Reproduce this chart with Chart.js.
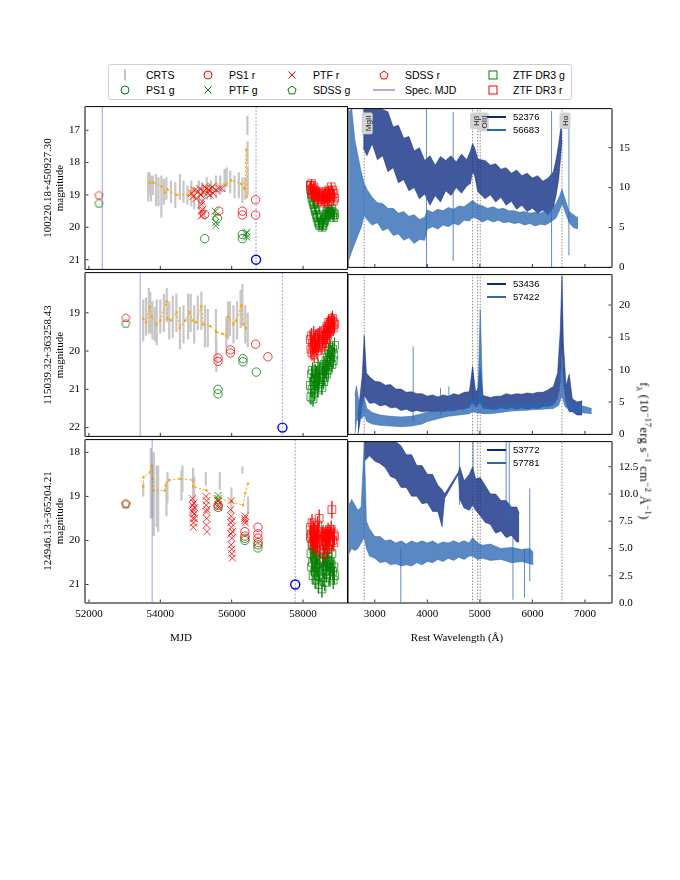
<!DOCTYPE html>
<html lang="en">
<head>
<meta charset="UTF-8">
<meta name="viewport" content="width=680, initial-scale=1.0">
<title>Light curves and spectra</title>
<script src="https://cdn.jsdelivr.net/npm/chart.js"></script>
<style>
    * { margin: 0; padding: 0; box-sizing: border-box; }
    body {
        width: 680px; height: 880px; background: #fff; position: relative; overflow: hidden;
        font-family: "Liberation Serif", "DejaVu Serif", serif; color: #000;
    }
    canvas { position: absolute; }
    .legend {
        position: absolute; left: 108px; top: 64px; width: 464px; height: 36px;
        border: 1px solid #cfcfcf; border-radius: 3px; background: #fff;
        font-family: "Liberation Sans", Arial, sans-serif; font-size: 10.5px;
    }
    .legend .item { position: absolute; height: 14px; line-height: 14px; white-space: nowrap; }
    .legend svg { position: absolute; }
    .label { position: absolute; white-space: nowrap; font-size: 11px; transform: translate(-50%, -50%); }
    .up { transform: translate(-50%, -50%) rotate(-90deg); }
    .down { transform: translate(-50%, -50%) rotate(90deg); }
    .flabel { font-size: 12.5px; letter-spacing: 0.3px; }
    .flabel sub, .flabel sup { font-size: 9px; }
    .speclegend { position: absolute; font-family: "Liberation Sans", Arial, sans-serif; font-size: 9.5px; line-height: 12px; }
    .specline { position: absolute; width: 19px; height: 2px; }
</style>
</head>
<body>
<div class="legend" id="legend"></div>

<canvas id="lc0"></canvas>
<canvas id="lc1"></canvas>
<canvas id="lc2"></canvas>
<canvas id="sp0"></canvas>
<canvas id="sp1"></canvas>
<canvas id="sp2"></canvas>

<div class="label" style="left:181px; top:637px;">MJD</div>
<div class="label" style="left:457px; top:637px;">Rest Wavelength (Å)</div>
<div class="label down flabel" style="left:644px; top:451px;">f<sub>λ</sub> (10<sup>−17</sup>erg s<sup>−1</sup> cm<sup>−2</sup> Å<sup>−1</sup>)</div>

<script>
// ---------- axes ----------
const mjdTicks = [52000, 54000, 56000, 58000];
const wlTicks = [3000, 4000, 5000, 6000, 7000];
const magTicks = [[17, 18, 19, 20, 21], [19, 20, 21, 22], [18, 19, 20, 21]];
const magRange = [[16.27, 21.3], [17.95, 22.23], [17.71, 21.42]];
const fluxTicks = [[0, 5, 10, 15], [0, 5, 10, 15, 20], [0, 2.5, 5, 7.5, 10, 12.5]];
const fluxMax = [19.9, 24.7, 14.8];

const objNames = ['100220.18+450927.30', '115039.32+363258.43', '124946.13+365204.21'];
const specMjd = [[52376, 56683], [53436, 57422], [53772, 57781]];
const specMarkMag = [21, 22, 21];

const lineWl = [2798, 4861, 4959, 5007, 6563];
const lineLabels = [['MgII', 2798], ['Hβ', 4861], ['OIII', 5007], ['Hα', 6563]];

// ---------- light curves: row 1 ----------
const crts1 = [[53660,18.75,0.45],[53700,18.65,0.35],[53740,18.8,0.4],[53790,18.7,0.3],[53880,18.85,0.5],
    [53950,18.9,0.45],[54030,19.05,0.65],[54100,18.9,0.4],[54170,18.8,0.35],[54300,18.9,0.35],[54420,19.0,0.4],
    [54550,18.75,0.4],[54650,18.9,0.35],[54760,19.0,0.3],[54870,18.95,0.4],[54950,19.1,0.35],[55080,19.0,0.45],
    [55180,18.95,0.35],[55300,18.8,0.35],[55420,18.85,0.3],[55560,18.75,0.35],[55680,18.7,0.3],[55800,18.55,0.35],
    [55860,18.45,0.3],[55960,18.6,0.35],[56080,18.75,0.35],[56200,18.7,0.4],[56300,18.85,0.4],[56380,18.8,0.35],
    [56440,16.85,0.3],[56445,17.7,0.35],[56450,18.55,0.45]];
const bin1 = [[53706,18.63],[53800,18.62],[54033,18.73],[54130,18.93],[54200,18.83],[54452,19.0],[54777,19.0],
    [54872,18.85],[55152,19.0],[55337,18.82],[55570,18.66],[55850,18.67],[55990,18.55],[56270,18.66],
    [56363,18.82],[56410,17.6],[56430,19.05]];
const ps1g1 = [[55245,20.35],[55600,19.72],[56300,20.22],[56300,20.35]];
const ps1r1 = [[55245,19.6],[55636,19.5],[56300,19.5],[56300,19.62],[56671,19.15],[56671,19.62]];
const ptfg1 = [[55540,19.5],[55545,19.65],[55550,19.85],[55555,19.95],[56400,20.2],[56420,20.3],[56430,20.15]];
const ptfr1 = [[54880,18.95],[54920,19.05],[54960,18.85],[55010,19.1],[55060,18.9],[55110,18.8],[55140,19.0],
    [55150,19.3],[55152,19.5],[55155,19.65],[55170,19.2],[55180,19.45],[55190,19.6],[55200,18.9],[55240,18.75],
    [55290,18.8],[55330,18.95],[55360,18.85],[55390,19.0],[55420,18.8],[55450,18.75],[55480,18.95],[55560,18.85],
    [55650,18.8],[55720,18.8]];
const sdssg1 = [[52280,19.25]];
const sdssr1 = [[52280,19.0]];

// ZTF DR3 epochs shared by the three objects, typical error per object
const ztfMjd = [58205,58220,58238,58251,58266,58280,58297,58310,58326,58342,58358,58371,58390,58405,58420,
    58436,58452,58470,58530,58548,58561,58577,58590,58606,58622,58640,58655,58671,58688,58703,58720,58736,
    58752,58770,58790,58808,58826,58845,58862,58880];
const ztfErr = [0.12, 0.2, 0.2];
const ztfr1 = [18.7,18.85,18.65,18.95,18.8,18.9,18.75,19.0,18.85,18.95,19.05,18.9,19.1,18.95,19.0,19.15,18.9,
    19.05,19.2,19.0,19.1,18.95,19.25,19.05,19.15,18.9,19.1,19.0,19.2,18.95,18.85,19.1,18.9,19.0,18.75,19.05,
    18.85,19.2,18.95,19.1];
const ztfg1 = [18.7,18.85,19.0,19.1,18.95,19.2,19.3,19.25,19.4,19.5,19.45,19.6,19.7,19.65,19.8,19.85,19.9,
    19.95,20.0,19.9,19.95,19.85,19.75,19.8,19.7,19.6,19.65,19.5,19.55,19.6,19.45,19.5,19.6,19.55,19.4,19.5,
    19.65,19.55,19.7,19.6];

// ---------- light curves: row 2 ----------
const crts2 = [[53520,19.2,0.55],[53600,19.1,0.5],[53680,18.95,0.6],[53720,19.0,0.55],[53780,19.2,0.5],
    [53850,19.3,0.45],[53900,19.25,0.6],[54000,19.1,0.45],[54100,19.0,0.5],[54180,18.8,0.45],[54250,19.2,0.5],
    [54350,19.1,0.55],[54450,19.0,0.5],[54550,19.4,0.55],[54650,19.3,0.5],[54780,19.1,0.6],[54850,19.0,0.5],
    [54950,19.3,0.5],[55050,19.0,0.45],[55150,18.95,0.5],[55250,19.35,0.55],[55330,19.4,0.5],[55560,19.5,0.6],
    [55570,20.1,0.45],[55850,19.5,0.4],[55900,19.2,0.5],[55950,19.15,0.45],[56050,19.3,0.5],[56150,19.2,0.5],
    [56250,18.9,0.5],[56300,18.8,0.55],[56380,19.3,0.5],[56450,19.45,0.45]];
const bin2 = [[53520,19.15],[53600,19.25],[53700,18.85],[53760,19.1],[53893,19.3],[54000,19.2],[54173,18.7],
    [54200,19.15],[54300,19.2],[54452,18.98],[54545,19.4],[54700,19.2],[54825,18.98],[54900,19.2],[55000,19.25],
    [55152,18.83],[55200,19.3],[55400,19.35],[55570,19.5],[55750,19.55],[55850,19.6],[55900,19.1],[56050,19.3],
    [56130,19.2],[56270,18.8],[56330,19.3],[56400,19.4]];
const ps1g2 = [[55617,21.0],[55617,21.12],[56316,20.2],[56316,20.28],[56690,20.55]];
const ps1r2 = [[55617,20.18],[55617,20.27],[55963,19.97],[55963,20.05],[56671,19.82],[57015,20.15]];
const ptfg2 = [];
const ptfr2 = [];
const sdssg2 = [[53035,19.27]];
const sdssr2 = [[53035,19.12]];
const ztfr2 = [19.7,19.95,19.6,20.05,19.8,19.9,19.55,20.1,19.75,19.85,19.65,19.9,20.0,19.7,19.6,19.85,19.75,
    19.55,19.9,19.7,19.65,19.5,19.8,19.6,19.45,19.7,19.55,19.35,19.6,19.4,19.25,19.5,19.3,19.45,19.2,19.35,
    19.15,19.4,19.25,19.3];
const ztfg2 = [20.9,21.2,20.6,21.0,20.5,21.25,20.8,20.7,21.1,20.55,20.9,20.75,20.6,21.0,20.4,20.85,20.7,20.5,
    20.95,20.6,20.45,20.8,20.35,20.7,20.5,20.25,20.6,20.4,20.15,20.5,20.0,20.3,19.9,20.2,20.05,20.35,19.95,
    20.25,20.1,19.85];

// ---------- light curves: row 3 ----------
const crts3 = [[53520,18.85,0.15],[53735,18.7,0.8],[53760,18.9,0.6],[53818,18.95,0.95],[53900,19.0,0.7],
    [53940,19.05,0.75],[54173,19.05,0.4],[54200,18.8,0.35],[54593,18.75,0.35],[54620,18.6,0.3],[54919,18.75,0.4],
    [54950,18.9,0.35],[55274,18.6,0.15],[55666,18.65,0.2],[55993,19.1,0.3],[56300,18.4,0.08],[56459,19.2,0.2]];
const bin3 = [[53520,18.78],[53530,18.56],[53706,18.45],[53750,18.3],[53790,18.6],[53820,18.86],[54126,18.87],
    [54150,18.75],[54247,18.63],[54545,18.6],[54900,18.63],[54920,18.78],[55290,18.86],[55570,19.04],
    [55990,19.12],[56316,19.2],[56380,18.93],[56457,18.71]];
const ps1g3 = [[55620,19.25],[56370,19.95],[56370,20.0],[56736,20.1],[56736,20.17]];
const ps1r3 = [[55620,19.2],[56370,19.8],[56370,19.9],[56736,19.7],[56736,19.85],[56736,19.95],[56740,20.05]];
const ptfg3 = [[55615,19.05],[55625,19.1],[55620,18.98]];
const ptfr3 = [[54900,19.05],[54905,19.2],[54910,19.35],[54915,19.5],[54920,19.3],[54925,19.7],[54930,19.6],
    [54940,19.15],[54945,19.4],[54950,19.25],[54960,19.5],[55280,19.0],[55285,19.2],[55290,19.35],[55292,19.65],
    [55295,19.1],[55300,19.5],[55305,19.3],[55310,19.8],[55610,19.1],[55620,19.2],[55630,19.25],[55970,19.3],
    [55975,19.6],[55980,19.85],[55985,20.1],[55990,19.45],[55992,19.1],[55995,19.7],[56000,20.3],[56002,20.2],
    [56005,19.95],[56010,19.55],[56015,20.4],[56020,19.8],[56360,19.5],[56370,19.55],[56375,19.45],[56380,19.6]];
const sdssg3 = [[53035,19.17]];
const sdssr3 = [[53035,19.15]];
const ztfr3 = [19.7,19.95,19.85,19.6,20.1,19.9,19.75,20.0,19.8,19.95,20.15,19.85,19.9,19.65,20.05,19.8,19.5,
    20.2,19.9,20.0,19.85,20.3,19.95,20.1,19.9,19.85,20.0,20.2,19.9,19.8,19.95,20.1,19.85,19.9,19.75,19.3,20.0,
    19.85,20.05,19.9];
const ztfg3 = [19.9,20.3,20.6,20.1,20.5,20.8,20.2,20.4,20.7,20.35,20.9,20.55,20.25,20.6,20.8,21.0,20.45,20.7,
    21.1,20.5,20.85,20.65,20.4,20.95,20.6,20.3,20.75,20.5,20.2,20.45,20.0,20.6,20.85,20.7,20.55,20.3,20.7,
    20.9,20.6,20.8];

// ---------- spectra: [wavelength, lower, upper] of the noisy band ----------
const spec1a = [[2780,15,21],[2850,14,21],[2950,15.5,21],[3050,13.5,20.5],[3150,14,19.8],[3250,12,19.5],
    [3350,12.5,17.6],[3450,10.6,17.8],[3550,11,16.2],[3650,9.6,16.4],[3750,10,14.6],[3850,8.6,15],[3950,9.2,13.4],
    [4050,7.8,14],[4150,9,12.8],[4250,8.2,13.9],[4350,9.6,13.4],[4450,9,14],[4550,10,13.2],[4650,9.3,14.2],
    [4750,10.2,13.5],[4820,10.5,14.6],[4861,12,15.5],[4900,11.5,15],[4960,9.5,13.6],[5007,9.2,13.5],[5100,8.6,13.4],
    [5200,9.1,12.8],[5300,8.2,13],[5400,8.8,12.3],[5500,7.8,12.5],[5600,8.3,11.8],[5700,7.3,12.2],[5800,7.8,11.5],
    [5900,7,11.8],[6000,7.4,11.2],[6100,6.8,11.5],[6200,7.2,10.8],[6300,6.6,11.2],[6400,7.5,12],[6450,9,13.5],
    [6500,11,15.5],[6540,14,17.5],[6563,16,18.5]];
const spec1b = [[2510,1,19.5],[2560,2,19.9],[2620,3,16],[2680,4,14],[2740,5,12],[2800,6.5,10.5],[2850,6,9.8],
    [2950,5.3,8.8],[3050,5.6,8.1],[3150,4.6,8],[3250,4.9,7.4],[3350,4,7.4],[3450,4.2,6.8],[3550,3.4,7],
    [3650,3.7,6.4],[3750,3,6.6],[3850,3.5,6],[3950,3.4,6.3],[4000,4.8,7.2],[4100,5.1,6.9],[4200,4.8,7.3],
    [4300,5.3,7.1],[4400,5.1,7.5],[4500,5.5,7.3],[4600,5.3,7.7],[4700,5.9,7.6],[4800,5.8,8.1],[4861,6.3,8.4],
    [4950,6.1,7.9],[5050,5.7,7.7],[5150,6,7.4],[5250,5.7,7.6],[5350,5.9,7.3],[5450,5.6,7.4],[5550,5.7,7.1],
    [5650,5.5,7.1],[5750,5.6,6.9],[5850,5.3,7],[5950,5.5,6.8],[6050,5.2,6.9],[6150,5.4,6.8],[6250,5.3,7.1],
    [6350,5.7,7.2],[6450,6.2,8],[6520,7.2,9],[6563,8,9.8],[6620,7,8.6],[6700,5.6,7],[6780,5,6.6],[6870,4.8,6.2]];
const spikes1 = [[3984,0,19.9],[4492,0.8,19.5],[6365,0,19.6],[6695,1.5,18.5]];

const spec2a = [[2680,0,3],[2720,2,6],[2760,4.5,9],[2800,6,15.3],[2840,5.5,9.5],[2900,4.8,8.9],[3000,4.9,8.2],
    [3100,4.4,8.1],[3200,4.6,7.6],[3300,4.1,7.7],[3400,4.2,7],[3500,3.7,7],[3600,3.9,6.5],[3700,3.5,6.6],
    [3800,3.7,6.3],[3900,3.5,6.3],[4000,3.6,5.9],[4100,3.5,6.1],[4200,3.6,5.8],[4300,3.5,6.1],[4400,3.7,5.9],
    [4500,3.6,6.3],[4600,3.9,6.1],[4700,3.9,6.5],[4800,4.2,6.6],[4861,5,10.5],[4920,4.2,6.5],[4960,4.5,7],
    [5007,5,10.2],[5060,4,6],[5200,3.9,5.7],[5300,3.8,5.9],[5400,4.1,5.9],[5500,3.9,6.3],[5600,4.1,6.1],[5700,3.9,6.3],
    [5800,4.1,6.2],[5900,3.9,6.4],[6000,4.1,6.3],[6100,4,6.5],[6200,4.3,6.5],[6300,4.3,6.9],[6400,4.6,7.4],
    [6480,5.5,9.5],[6530,8,16],[6563,14,24.5],[6590,8,14],[6640,5,7.5],[6700,3.5,9.3],[6760,3.5,5.5],
    [6850,3,5],[6950,3,5.2]];
const spec2b = [[2620,0,6],[2650,2,7.5],[2700,2.5,5],[2760,2.5,5],[2800,3,5.6],[2850,2,4],[2950,1.6,3.4],
    [3100,1.4,3],[3300,1.3,2.8],[3500,1.2,2.7],[3700,1.3,2.8],[3900,1.6,3.2],[4000,2,3.5],[4200,2.4,3.6],
    [4400,2.8,3.8],[4600,3,4],[4800,3.2,4.2],[4861,3.5,5.5],[4960,3.3,4.5],[5007,3.3,19.3],[5060,3.2,4.2],
    [5200,3.2,4.2],[5400,3.4,4.4],[5600,3.6,4.6],[5800,3.7,4.7],[6000,3.8,4.8],[6200,3.9,4.8],[6400,4,5],
    [6500,4.5,6],[6563,6,12],[6620,4.3,5.6],[6700,3.8,5],[6800,3.5,4.6],[6900,3.4,4.5],[7000,3.3,4.3],[7130,3.2,4]];
const spikes2 = [[3730,2,13.6],[4250,3,7.2],[4410,3.5,7.4]];

const spec3a = [[2800,13,16],[2900,13.5,16],[3000,13,16],[3100,12.8,16],[3200,12.4,15.8],[3300,11.6,15.2],
    [3400,11.4,14.8],[3500,10.6,14.4],[3600,10.6,13.6],[3700,9.8,13.6],[3800,9.8,12.6],[3900,9.1,12.6],
    [4000,9.2,11.8],[4100,8.4,11.8],[4200,8.4,10.8],[4280,7,10.4],[4330,9.6,10],[4590,11.8,12],[4620,9.5,12.5],
    [4700,8.7,11.2],[4800,8.5,11.8],[4861,9,12.5],[4920,8.5,11.4],[5007,8,11.5],[5100,7.4,10.8],[5200,7.2,10],
    [5300,6.4,10],[5400,6.6,9.4],[5500,6,9.4],[5600,6.2,8.8],[5700,5.6,8.8],[5750,5.6,8.2]];
const spec3b = [[2505,4.5,9],[2560,5,9.5],[2620,4.8,9],[2680,5,8.5],[2740,5.5,8.8],[2800,6,14.8],[2840,5,7.5],
    [2900,4.3,6.8],[3000,4.1,6.1],[3100,3.7,6.1],[3200,3.8,5.7],[3300,3.5,5.8],[3400,3.6,5.5],[3500,3.4,5.7],
    [3600,3.5,5.4],[3700,3.4,5.7],[3800,3.7,5.5],[3900,3.5,5.7],[4000,3.8,5.5],[4100,3.7,5.7],[4200,4,5.4],
    [4300,3.8,5.6],[4400,4.1,5.5],[4500,3.9,5.7],[4600,4.2,5.5],[4700,4,5.7],[4800,4.3,5.5],[4861,4.3,6],
    [4960,4,5.5],[5050,4.1,5.3],[5200,3.9,5.4],[5400,4,5],[5600,3.7,5.1],[5800,3.8,4.9],[5950,3.6,5],[6020,3.5,4.6]];
const spikes3 = [[3495,0,5],[4610,9,14.8],[4870,10,14.8],[5500,7,14.8],[5560,7,14.8],[5630,0.3,6],[5850,0.5,5],[5950,2,10.5]];

// ---------- layout ----------
const rowTop = [105, 271, 438];
const rowBot = [271, 438, 603];
const DARK = [12, 42, 128];
const LIGHT = [43, 103, 178];
const RED = 'rgba(255,0,0,0.8)';
const GREEN = 'rgba(0,128,0,0.8)';
const GRAY_EDGE = {color: '#808080', width: 2};
const BLACK_EDGE = {color: '#000', width: 1};
const tickFont = {family: '"Liberation Serif", "DejaVu Serif", serif', size: 11};

const rgba = (c, a) => `rgba(${c[0]},${c[1]},${c[2]},${a})`;
const xy = pairs => pairs.map(p => ({x: p[0], y: p[1]}));
// vertical segments [x, y0, y1] separated by gaps
const segs = rows => {
    const out = [];
    rows.forEach(r => out.push({x: r[0], y: r[1]}, {x: r[0], y: r[2]}, {x: r[0], y: null}));
    return out;
};

function pentagon(color) {
    const c = document.createElement('canvas');
    c.width = 11; c.height = 11;
    const g = c.getContext('2d');
    g.strokeStyle = color; g.lineWidth = 1;
    g.beginPath();
    for (let i = 0; i < 5; i++) {
        const a = -Math.PI / 2 + i * 2 * Math.PI / 5;
        const px = 5.5 + 4.3 * Math.cos(a), py = 6 + 4.3 * Math.sin(a);
        i ? g.lineTo(px, py) : g.moveTo(px, py);
    }
    g.closePath(); g.stroke();
    return c;
}

// spines and inward tick marks
const framePlugin = {
    id: 'frame',
    afterDraw(chart, args, o) {
        if (!o || !o.edges) return;
        const {ctx, chartArea: a, scales} = chart;
        const line = (x0, y0, x1, y1, st) => {
            ctx.strokeStyle = st.color; ctx.lineWidth = st.width;
            ctx.beginPath(); ctx.moveTo(x0, y0); ctx.lineTo(x1, y1); ctx.stroke();
        };
        const tick = {color: '#000', width: 0.8};
        ctx.save();
        scales.x.ticks.forEach(t => {
            const px = scales.x.getPixelForValue(t.value);
            line(px, a.bottom, px, a.bottom - 3.5, tick);
        });
        scales.y.ticks.forEach(t => {
            const py = scales.y.getPixelForValue(t.value);
            if (o.ySide === 'left') line(a.left, py, a.left + 3.5, py, tick);
            else line(a.right, py, a.right - 3.5, py, tick);
        });
        const e = o.edges;
        line(a.left, a.top, a.right, a.top, e.top);
        line(a.left, a.bottom, a.right, a.bottom, e.bottom);
        line(a.left, a.top, a.left, a.bottom, e.left);
        line(a.right, a.top, a.right, a.bottom, e.right);
        ctx.restore();
    }
};

// emission line names in grey boxes
const lineLabelPlugin = {
    id: 'lineLabels',
    afterDatasetsDraw(chart, args, o) {
        if (!o || !o.labels) return;
        const {ctx, chartArea: a, scales: {x}} = chart;
        ctx.save();
        ctx.font = '8px "Liberation Sans", Arial, sans-serif';
        o.labels.forEach(([txt, wl]) => {
            const px = x.getPixelForValue(wl);
            const w = ctx.measureText(txt).width;
            ctx.fillStyle = '#d2d2d2';
            ctx.beginPath();
            ctx.roundRect(px - 2.5, a.top + 4, 11, w + 6, 2);
            ctx.fill();
        });
        ctx.fillStyle = '#222';
        o.labels.forEach(([txt, wl]) => {
            const px = x.getPixelForValue(wl);
            const w = ctx.measureText(txt).width;
            ctx.save();
            ctx.translate(px + 6.5, a.top + 7 + w);
            ctx.rotate(-Math.PI / 2);
            ctx.fillText(txt, 0, 0);
            ctx.restore();
        });
        ctx.restore();
    }
};

Chart.register(framePlugin, lineLabelPlugin);

function placeCanvas(cv, left, top, w, h) {
    cv.width = w; cv.height = h;
    cv.style.left = left + 'px'; cv.style.top = top + 'px';
    cv.style.width = w + 'px'; cv.style.height = h + 'px';
}

function markers(data, style, color, radius, extra) {
    return Object.assign({
        type: 'scatter', data: xy(data), pointStyle: style, pointRadius: radius,
        pointBorderColor: color, pointBackgroundColor: 'rgba(0,0,0,0)', pointBorderWidth: 1
    }, extra || {});
}

const noGrid = {display: false, drawTicks: false, tickLength: 0};

function lightCurve(row, d) {
    const h = rowBot[row] - rowTop[row];
    const bottomRow = row === 2;
    const xh = bottomRow ? 22 : 0;
    const cv = document.getElementById('lc' + row);
    placeCanvas(cv, 40, rowTop[row] - 10, 45 + 263 + 6, 10 + h + xh + 10);
    const [yMin, yMax] = magRange[row];
    const specColor = 'rgba(95,95,225,0.5)';
    const e = ztfErr[row];

    // listed bottom to top
    const ds = [
        {type: 'line', data: segs(d.crts.map(c => [c[0], c[1] - c[2], c[1] + c[2]])),
         borderColor: 'rgba(185,185,185,0.8)', borderWidth: 2.2, pointRadius: 0},
        {type: 'line', data: xy(d.bin), borderColor: '#ffa500', borderWidth: 1, borderDash: [2, 2],
         pointRadius: 1.6, pointStyle: 'rect', pointBackgroundColor: '#ffa500', pointBorderWidth: 0},
        markers(d.ps1g, 'circle', GREEN, 4.2),
        markers(d.ps1r, 'circle', RED, 4.2),
        markers(d.ptfg, 'crossRot', GREEN, 5),
        markers(d.ptfr, 'crossRot', RED, 5),
        markers(d.sdssg, pentagon(GREEN), GREEN, 5),
        markers(d.sdssr, pentagon(RED), RED, 5),
        {type: 'line', data: segs([[specMjd[row][0], yMin, yMax]]), borderColor: specColor, borderWidth: 1.2, pointRadius: 0},
        {type: 'line', data: segs([[specMjd[row][1], yMin, yMax]]), borderColor: specColor, borderWidth: 1.2,
         borderDash: [2, 1.5], pointRadius: 0},
        {type: 'line', data: segs(ztfMjd.map((m, i) => [m, d.ztfg[i] - e, d.ztfg[i] + e])),
         borderColor: 'rgba(0,128,0,0.6)', borderWidth: 1, pointRadius: 0},
        markers(ztfMjd.map((m, i) => [m, d.ztfg[i]]), 'rect', 'rgba(0,128,0,0.7)', 5.5),
        {type: 'line', data: segs(ztfMjd.map((m, i) => [m, d.ztfr[i] - e, d.ztfr[i] + e])),
         borderColor: 'rgba(255,0,0,0.6)', borderWidth: 1, pointRadius: 0},
        markers(ztfMjd.map((m, i) => [m, d.ztfr[i]]), 'rect', 'rgba(255,0,0,0.7)', 5.5),
        markers([[specMjd[row][1], specMarkMag[row]]], 'circle', '#0000ff', 4.5, {pointBorderWidth: 1.4})
    ];
    ds.forEach((s, i) => { s.order = ds.length - i; });

    new Chart(cv, {
        type: 'scatter',
        data: {datasets: ds},
        options: {
            responsive: false, animation: false, devicePixelRatio: 1,
            layout: {padding: {top: 10, bottom: 10, left: 0, right: 6}},
            plugins: {
                legend: {display: false}, tooltip: {enabled: false},
                frame: {ySide: 'left', edges: {left: GRAY_EDGE, right: BLACK_EDGE, top: BLACK_EDGE,
                        bottom: bottomRow ? GRAY_EDGE : BLACK_EDGE}}
            },
            scales: {
                x: {
                    type: 'linear', min: 51890, max: 59245,
                    afterBuildTicks: s => { s.ticks = mjdTicks.map(v => ({value: v})); },
                    afterFit: s => { s.height = xh; },
                    grid: noGrid, border: {display: false},
                    ticks: {display: bottomRow, padding: 5, color: '#000', font: tickFont, maxRotation: 0,
                            callback: v => String(v)}
                },
                y: {
                    type: 'linear', reverse: true, min: yMin, max: yMax,
                    afterBuildTicks: s => { s.ticks = magTicks[row].map(v => ({value: v})); },
                    afterFit: s => { s.width = 45; },
                    grid: noGrid, border: {display: false},
                    ticks: {padding: 5, color: '#000', font: tickFont, callback: v => String(v)}
                }
            }
        }
    });
}

function band(spec, c) {
    return [
        {type: 'line', data: spec.map(p => ({x: p[0], y: p[1]})), borderColor: rgba(c, 0.5), borderWidth: 1,
         pointRadius: 0, fill: false},
        {type: 'line', data: spec.map(p => ({x: p[0], y: p[2]})), borderColor: rgba(c, 0.5), borderWidth: 1,
         pointRadius: 0, fill: '-1', backgroundColor: rgba(c, 0.78)}
    ];
}

function spectrum(row, dark, light, spikes) {
    const h = rowBot[row] - rowTop[row];
    const bottomRow = row === 2;
    const xh = bottomRow ? 22 : 0;
    const cv = document.getElementById('sp' + row);
    placeCanvas(cv, 342, rowTop[row] - 10, 6 + 264 + 40, 10 + h + xh + 10);

    const ds = [
        {type: 'line', data: segs(lineWl.map(w => [w, 0, fluxMax[row]])), borderColor: '#6f6f6f',
         borderWidth: 0.8, borderDash: [1.5, 1.5], pointRadius: 0},
        ...band(dark, DARK),
        ...band(light, LIGHT),
        {type: 'line', data: segs(spikes), borderColor: rgba(LIGHT, 0.75), borderWidth: 1, pointRadius: 0}
    ];
    ds.forEach((s, i) => { s.order = ds.length - i; });

    const tickFmt = row === 2 ? (v => v.toFixed(1)) : (v => String(v));
    new Chart(cv, {
        type: 'scatter',
        data: {datasets: ds},
        options: {
            responsive: false, animation: false, devicePixelRatio: 1,
            layout: {padding: {top: 10, bottom: 10, left: 6, right: 0}},
            plugins: {
                legend: {display: false}, tooltip: {enabled: false},
                frame: {ySide: 'right', edges: {left: BLACK_EDGE, right: GRAY_EDGE, top: BLACK_EDGE,
                        bottom: bottomRow ? GRAY_EDGE : BLACK_EDGE}},
                lineLabels: row === 0 ? {labels: lineLabels} : {}
            },
            scales: {
                x: {
                    type: 'linear', min: 2490, max: 7515,
                    afterBuildTicks: s => { s.ticks = wlTicks.map(v => ({value: v})); },
                    afterFit: s => { s.height = xh; },
                    grid: noGrid, border: {display: false},
                    ticks: {display: bottomRow, padding: 5, color: '#000', font: tickFont, maxRotation: 0,
                            callback: v => String(v)}
                },
                y: {
                    type: 'linear', position: 'right', min: 0, max: fluxMax[row],
                    afterBuildTicks: s => { s.ticks = fluxTicks[row].map(v => ({value: v})); },
                    afterFit: s => { s.width = 40; },
                    grid: noGrid, border: {display: false},
                    ticks: {padding: 7, color: '#000', font: tickFont, callback: tickFmt}
                }
            }
        }
    });
}

lightCurve(0, {crts: crts1, bin: bin1, ps1g: ps1g1, ps1r: ps1r1, ptfg: ptfg1, ptfr: ptfr1, sdssg: sdssg1, sdssr: sdssr1, ztfg: ztfg1, ztfr: ztfr1});
lightCurve(1, {crts: crts2, bin: bin2, ps1g: ps1g2, ps1r: ps1r2, ptfg: ptfg2, ptfr: ptfr2, sdssg: sdssg2, sdssr: sdssr2, ztfg: ztfg2, ztfr: ztfr2});
lightCurve(2, {crts: crts3, bin: bin3, ps1g: ps1g3, ps1r: ps1r3, ptfg: ptfg3, ptfr: ptfr3, sdssg: sdssg3, sdssr: sdssr3, ztfg: ztfg3, ztfr: ztfr3});
spectrum(0, spec1a, spec1b, spikes1);
spectrum(1, spec2a, spec2b, spikes2);
spectrum(2, spec3a, spec3b, spikes3);

// ---------- y labels (object names + magnitude) ----------
objNames.forEach((name, r) => {
    const mid = (rowTop[r] + rowBot[r]) / 2;
    [[name, 47], ['magnitude', 59]].forEach(([txt, x]) => {
        const el = document.createElement('div');
        el.className = 'label up';
        el.style.left = x + 'px';
        el.style.top = mid + 'px';
        el.textContent = txt;
        document.body.appendChild(el);
    });
});

// ---------- spectrum legends ----------
const specLegendY = [117, 283.5, 450];
specMjd.forEach((pair, r) => {
    pair.forEach((mjd, k) => {
        const y = specLegendY[r] + k * 13;
        const ln = document.createElement('div');
        ln.className = 'specline';
        ln.style.left = '487px'; ln.style.top = (y - 1) + 'px';
        ln.style.background = rgba(k === 0 ? DARK : LIGHT, 1);
        document.body.appendChild(ln);
        const tx = document.createElement('div');
        tx.className = 'speclegend';
        tx.style.left = '513px'; tx.style.top = (y - 6) + 'px';
        tx.textContent = String(mjd);
        document.body.appendChild(tx);
    });
});

// ---------- main legend ----------
const legendItems = [
    ['bar', '#c4c4c4', 'CRTS'], ['circle', 'red', 'PS1 r'], ['x', 'red', 'PTF r'], ['pent', 'red', 'SDSS r'], ['square', 'green', 'ZTF DR3 g'],
    ['circle', 'green', 'PS1 g'], ['x', 'green', 'PTF g'], ['pent', 'green', 'SDSS g'], ['line', '#7a7ad8', 'Spec. MJD'], ['square', 'red', 'ZTF DR3 r']
];
const legendMarkX = [16, 99, 183, 275, 384];
const legendTextX = [37, 120, 204, 296, 404];
const legendRowY = [10, 25];

function markerSvg(kind, color) {
    const w = kind === 'line' ? 24 : 14;
    let body = '';
    if (kind === 'bar') body = `<line x1="7" y1="1.5" x2="7" y2="12.5" stroke="${color}" stroke-width="2"/>`;
    if (kind === 'circle') body = `<circle cx="7" cy="7" r="4" fill="none" stroke="${color}" stroke-width="1"/>`;
    if (kind === 'x') body = `<path d="M3.5 3.5 L10.5 10.5 M10.5 3.5 L3.5 10.5" stroke="${color}" stroke-width="1"/>`;
    if (kind === 'square') body = `<rect x="3" y="3" width="8" height="8" fill="none" stroke="${color}" stroke-width="1"/>`;
    if (kind === 'line') body = `<line x1="1" y1="7" x2="23" y2="7" stroke="${color}" stroke-width="1.2"/>`;
    if (kind === 'pent') {
        const pts = [];
        for (let i = 0; i < 5; i++) {
            const a = -Math.PI / 2 + i * 2 * Math.PI / 5;
            pts.push((7 + 4.3 * Math.cos(a)).toFixed(2) + ',' + (7.4 + 4.3 * Math.sin(a)).toFixed(2));
        }
        body = `<polygon points="${pts.join(' ')}" fill="none" stroke="${color}" stroke-width="1"/>`;
    }
    return {w, svg: `<svg width="${w}" height="14" viewBox="0 0 ${w} 14">${body}</svg>`};
}

const legend = document.getElementById('legend');
legendItems.forEach(([kind, color, text], i) => {
    const col = i % 5, row = Math.floor(i / 5);
    const cy = legendRowY[row];
    const m = markerSvg(kind, color);
    const holder = document.createElement('div');
    holder.innerHTML = m.svg;
    const svg = holder.firstChild;
    svg.style.left = (legendMarkX[col] - m.w / 2) + 'px';
    svg.style.top = (cy - 7) + 'px';
    legend.appendChild(svg);
    const t = document.createElement('div');
    t.className = 'item';
    t.style.left = legendTextX[col] + 'px';
    t.style.top = (cy - 7) + 'px';
    t.textContent = text;
    legend.appendChild(t);
});
</script>
</body>
</html>
